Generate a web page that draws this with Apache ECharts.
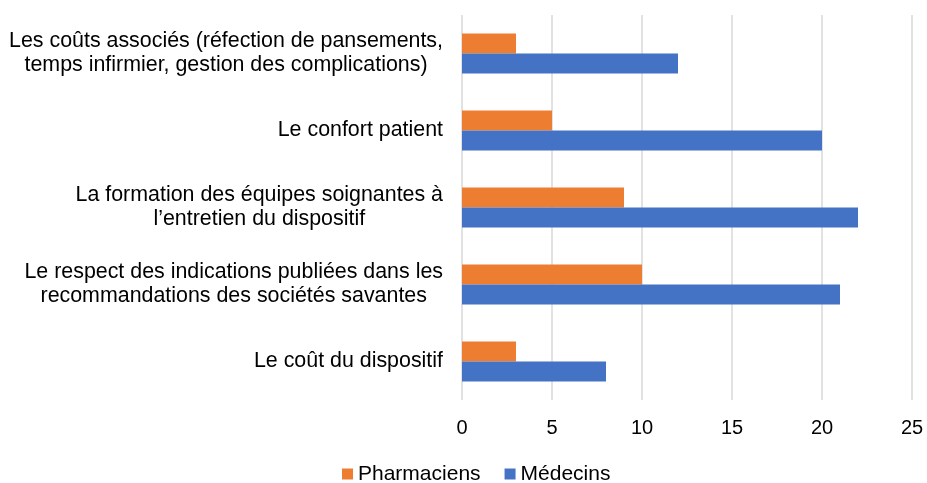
<!DOCTYPE html>
<html>
<head>
<meta charset="utf-8">
<script src="https://cdn.jsdelivr.net/npm/echarts@6/dist/echarts.min.js"></script>
<style>
    html, body { margin: 0; padding: 0; background: #fff; }
    #chart { width: 927px; height: 483px; }
</style>
</head>
<body>
<div id="chart"></div>
<script>
// catégories (haut -> bas)
var categories = [
    'Les coûts associés (réfection de pansements,\ntemps infirmier, gestion des complications)',
    'Le confort patient',
    'La formation des équipes soignantes à\nl\u2019entretien du dispositif',
    'Le respect des indications publiées dans les\nrecommandations des sociétés savantes',
    'Le coût du dispositif'
];
var pharmaciens = [3, 5, 9, 10, 3];
var medecins = [12, 20, 22, 21, 8];
var seriesNames = ['Pharmaciens', 'Médecins'];

var chart = echarts.init(document.getElementById('chart'));

var option = {
    animation: false,
    textStyle: { fontFamily: '"Liberation Sans", Arial, sans-serif', color: '#000' },
    grid: { left: 462, right: 15, top: 15, bottom: 83 },
    legend: {
        data: seriesNames,
        top: 463,
        left: 342,
        padding: 0,
        icon: 'rect',
        itemWidth: 11,
        itemHeight: 11,
        itemGap: 24,
        textStyle: { fontSize: 21, color: '#000', lineHeight: 22 }
    },
    xAxis: {
        type: 'value',
        min: 0,
        max: 25,
        interval: 5,
        axisLine: { show: false },
        axisTick: { show: false },
        axisLabel: { fontSize: 20, color: '#000', margin: 18 },
        splitLine: { lineStyle: { color: '#d9d9d9', width: 1.5 } }
    },
    yAxis: {
        type: 'category',
        inverse: true,
        data: categories,
        axisLine: { show: false },
        axisTick: { show: false },
        axisLabel: {
            fontSize: 21.4,
            color: '#000',
            margin: 19,
            lineHeight: 24,
            // lignes centrées entre elles, bloc aligné à droite
            formatter: function (value) {
                return value.split('\n').map(function (l) { return '{c|' + l + '}'; }).join('\n');
            },
            rich: {
                c: { align: 'center', fontSize: 21.4, lineHeight: 24, color: '#000' }
            }
        }
    },
    series: [
        {
            name: seriesNames[0],
            type: 'bar',
            data: pharmaciens,
            barGap: '0%',
            barCategoryGap: '48%',
            itemStyle: { color: '#ED7D31' }
        },
        {
            name: seriesNames[1],
            type: 'bar',
            data: medecins,
            barGap: '0%',
            barCategoryGap: '48%',
            itemStyle: { color: '#4472C4' }
        }
    ]
};

chart.setOption(option);
</script>
</body>
</html>
